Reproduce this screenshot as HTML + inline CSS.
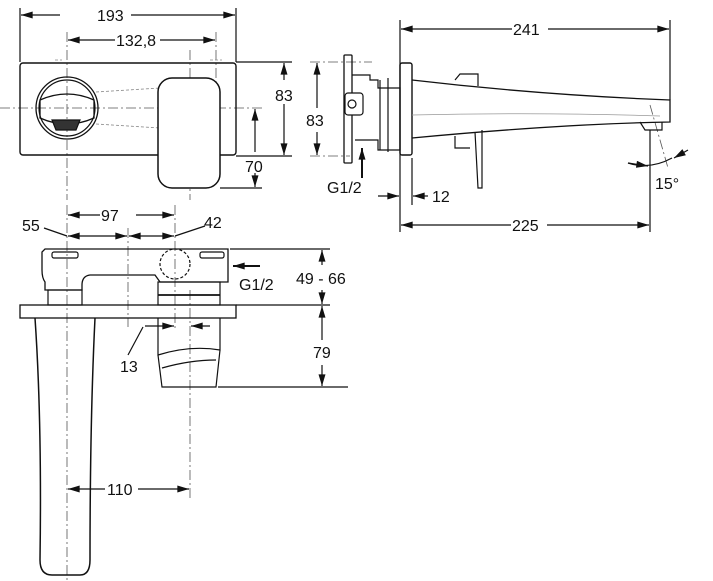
<!DOCTYPE html>
<html><head><meta charset="utf-8"><style>
html,body{margin:0;padding:0;background:#fff;width:713px;height:581px;overflow:hidden}
text{font-family:"Liberation Sans",Arial,sans-serif;font-size:16px;fill:#111}
</style></head><body>
<svg width="713" height="581" viewBox="0 0 713 581" xmlns="http://www.w3.org/2000/svg">
<defs>
<marker id="a" viewBox="0 0 10 6" refX="10" refY="3" markerWidth="12" markerHeight="7" markerUnits="userSpaceOnUse" orient="auto-start-reverse"><path d="M0,0L10,3L0,6z" fill="#111"/></marker>
</defs>
<g fill="none" stroke="#111" stroke-width="1.2">
<g stroke="#555" stroke-width="0.8" stroke-dasharray="10,3,2,3">
<line x1="0" y1="108" x2="262" y2="108"/>
<line x1="67" y1="32" x2="67" y2="200"/>
<line x1="190" y1="50" x2="190" y2="200"/>
<line x1="216" y1="32" x2="216" y2="160"/>
<line x1="67" y1="205" x2="67" y2="581"/>
<line x1="128" y1="228" x2="128" y2="327"/>
<line x1="175" y1="205" x2="175" y2="330"/>
<line x1="190" y1="290" x2="190" y2="500"/>
<line x1="310" y1="62" x2="372" y2="62"/>
<line x1="310" y1="156" x2="350" y2="156"/>
<line x1="650" y1="105" x2="668" y2="168"/>
</g>
<rect x="20" y="63" width="216" height="92" rx="3" stroke-width="1.4"/>
<circle cx="67" cy="108" r="31" stroke-width="1.3"/>
<circle cx="67" cy="108" r="28"/>
<path d="M40,100 Q67,88 94,100 L94,118 Q67,130 40,118Z" stroke-width="1.3"/>
<path d="M52,120 h28 l-4,10 h-20z" fill="#333"/>
<g stroke="#888" stroke-dasharray="3,2" stroke-width="0.8">
<path d="M96,92 L160,88 M96,124 L160,128 M55,60 L62,60 M210,60 L222,60 M205,140 Q190,150 170,140"/>
</g>
<rect x="158" y="78" width="62" height="110" rx="14" fill="#fff" stroke-width="1.5"/>
<line x1="20" y1="8" x2="20" y2="62"/>
<line x1="236" y1="8" x2="236" y2="62"/>
<line x1="21" y1="15" x2="60" y2="15" marker-start="url(#a)"/>
<line x1="131" y1="15" x2="235" y2="15" marker-end="url(#a)"/>
<line x1="68" y1="40" x2="115" y2="40" marker-start="url(#a)"/>
<line x1="160" y1="40" x2="215" y2="40" marker-end="url(#a)"/>
<line x1="236" y1="62" x2="292" y2="62"/>
<line x1="236" y1="156" x2="292" y2="156"/>
<line x1="284" y1="63" x2="284" y2="80" marker-start="url(#a)"/>
<line x1="284" y1="104" x2="284" y2="155" marker-end="url(#a)"/>
<line x1="255" y1="109" x2="255" y2="152" marker-start="url(#a)"/>
<line x1="255" y1="173" x2="255" y2="187" marker-end="url(#a)"/>
<line x1="220" y1="188" x2="262" y2="188"/>
<line x1="317" y1="63" x2="317" y2="108" marker-start="url(#a)"/>
<line x1="317" y1="132" x2="317" y2="155" marker-end="url(#a)"/>
<rect x="344" y="55" width="8" height="108" rx="1" stroke-width="1.3"/>
<path d="M352,75 H370 V80 H378 V88 H400 V150 H378 V140 H355"/>
<rect x="345" y="93" width="18" height="22" rx="3" fill="#fff"/>
<circle cx="352" cy="104" r="4"/>
<path d="M380,80 V150 M388,78 V152"/>
<rect x="400" y="63" width="12" height="92" rx="2" stroke-width="1.4"/>
<path d="M412,80 Q540,95 670,100 V122 Q560,124 412,138" stroke-width="1.3"/>
<path d="M455,80 L460,74 H478 V86"/>
<path d="M412,115 Q540,112 660,116" stroke="#999" stroke-width="0.7"/>
<path d="M640,122 L645,130 H662 L662,122"/>
<path d="M455,136 V148 H470" />
<path d="M475,132 L478,188 L482,188 L482,130"/>
<line x1="400" y1="20" x2="400" y2="232"/>
<line x1="670" y1="20" x2="670" y2="100"/>
<line x1="412" y1="158" x2="412" y2="205"/>
<line x1="650" y1="130" x2="650" y2="232"/>
<line x1="401" y1="29" x2="512" y2="29" marker-start="url(#a)"/>
<line x1="548" y1="29" x2="669" y2="29" marker-end="url(#a)"/>
<line x1="401" y1="225" x2="511" y2="225" marker-start="url(#a)"/>
<line x1="547" y1="225" x2="649" y2="225" marker-end="url(#a)"/>
<line x1="378" y1="196" x2="399" y2="196" marker-end="url(#a)"/>
<line x1="428" y1="196" x2="413" y2="196" marker-end="url(#a)"/>
<line x1="362" y1="178" x2="362" y2="148" marker-end="url(#a)" stroke-width="2"/>
<path d="M628,163 Q650,170 672,158" />
<line x1="628" y1="163" x2="648" y2="166" marker-end="url(#a)"/>
<line x1="688" y1="150" x2="674" y2="158" marker-end="url(#a)"/>
<path d="M45,249 H228 V282 H160 L155,275 H90 Q82,276 82,285 V290 H45 V282 Q42,278 42,270 V252Z" stroke-width="1.3"/>
<rect x="52" y="252" width="26" height="6" rx="2"/>
<rect x="200" y="252" width="24" height="6" rx="2"/>
<circle cx="175" cy="264" r="15" stroke-dasharray="3,2"/>
<rect x="48" y="290" width="34" height="15"/>
<rect x="158" y="282" width="62" height="23"/>
<line x1="158" y1="295" x2="220" y2="295" stroke-width="1.8"/>
<rect x="20" y="305" width="216" height="13" stroke-width="1.3"/>
<path d="M35,318 Q42,420 40,560 Q40,575 52,575 H80 Q90,575 90,560 Q90,420 95,318" stroke-width="1.5"/>
<path d="M158,318 V355 Q190,345 220,350 V318 M158,355 L162,387 H216 L220,350 M162,368 Q190,360 216,360"/>
<line x1="230" y1="249" x2="330" y2="249"/>
<line x1="236" y1="305" x2="330" y2="305"/>
<line x1="218" y1="387" x2="348" y2="387"/>
<line x1="322" y1="250" x2="322" y2="265" marker-start="url(#a)"/>
<line x1="322" y1="290" x2="322" y2="304" marker-end="url(#a)"/>
<line x1="322" y1="306" x2="322" y2="340" marker-start="url(#a)"/>
<line x1="322" y1="365" x2="322" y2="386" marker-end="url(#a)"/>
<line x1="260" y1="266" x2="233" y2="266" marker-end="url(#a)" stroke-width="2"/>
<line x1="68" y1="215" x2="100" y2="215" marker-start="url(#a)"/>
<line x1="136" y1="215" x2="174" y2="215" marker-end="url(#a)"/>
<line x1="68" y1="236" x2="127" y2="236" marker-start="url(#a)" marker-end="url(#a)"/>
<line x1="129" y1="236" x2="174" y2="236" marker-start="url(#a)" marker-end="url(#a)"/>
<line x1="44" y1="228" x2="67" y2="236"/>
<line x1="175" y1="236" x2="205" y2="226"/>
<line x1="145" y1="326" x2="174" y2="326" marker-end="url(#a)"/>
<line x1="210" y1="326" x2="191" y2="326" marker-end="url(#a)"/>
<line x1="128" y1="355" x2="143" y2="327"/>
<line x1="68" y1="489" x2="105" y2="489" marker-start="url(#a)"/>
<line x1="138" y1="489" x2="189" y2="489" marker-end="url(#a)"/>
</g>
<text x="97" y="21">193</text>
<text x="116" y="46">132,8</text>
<text x="275" y="101">83</text>
<text x="245" y="172">70</text>
<text x="306" y="126">83</text>
<text x="327" y="193">G1/2</text>
<text x="513" y="35">241</text>
<text x="432" y="202">12</text>
<text x="655" y="189">15°</text>
<text x="512" y="231">225</text>
<text x="101" y="221">97</text>
<text x="22" y="231">55</text>
<text x="204" y="228">42</text>
<text x="239" y="290">G1/2</text>
<text x="296" y="284">49 - 66</text>
<text x="313" y="358">79</text>
<text x="120" y="372">13</text>
<text x="107" y="495">110</text>
</svg>
</body></html>
